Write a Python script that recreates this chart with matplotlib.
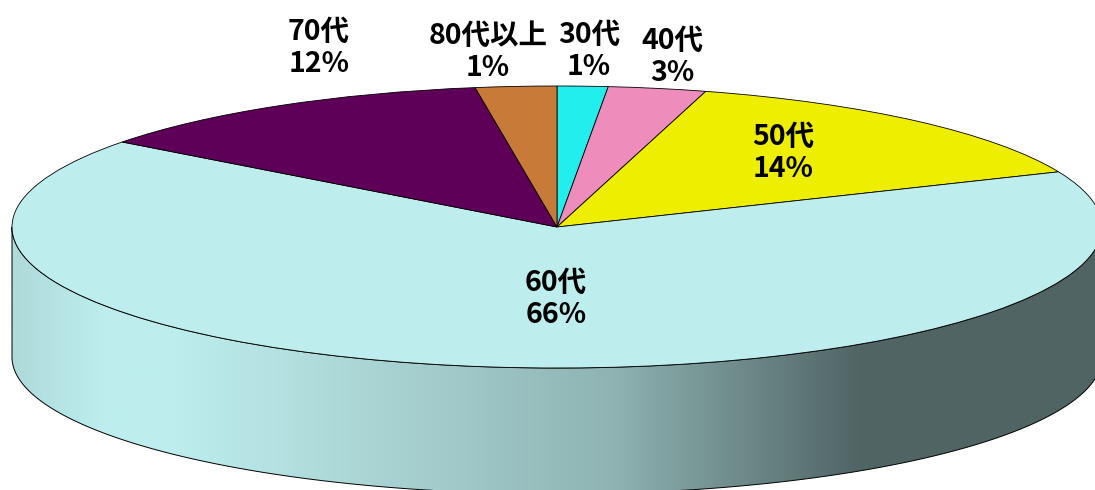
import numpy as np
import matplotlib
matplotlib.use('Agg')
import matplotlib.pyplot as plt
from matplotlib.colors import LinearSegmentedColormap
from matplotlib.patches import Polygon

plt.rcParams['font.family'] = ['Noto Sans CJK JP', 'DejaVu Sans']

# labels as printed, sizes
categories = ['30代', '40代', '50代', '60代', '70代', '80代以上']
printed_pct = [1, 3, 14, 66, 12, 1]
slice_sizes = [1.5, 2.9, 14.2, 66.7, 12.3, 2.4]
colors = ['#22EEEE', '#EE8CBC', '#EEEE00', '#BDEDED', '#5E0058', '#C87A38']

W, H = 1095, 490
cx, cy = 557, 227  # pie centre in pixels
a, b = 545, 141    # semi axes of the squashed pie
depth = 130 / b
lower_squash = 137 / 141  # bottom rim is a bit flatter than the top

fig = plt.figure(figsize=(W / 100, H / 100), dpi=100)
ax = fig.add_axes([0, 0, 1, 1])

# side wall first, gradient clipped to the lower half of the ellipse
t = np.linspace(np.pi, 2 * np.pi, 300)
upper = np.column_stack([np.cos(t), np.sin(t)])
lower = upper[::-1] * [1, lower_squash] - [0, depth]
wall = Polygon(np.vstack([upper, lower]), closed=True, fc='none', ec='black', lw=0.7, zorder=3)
ax.add_patch(wall)
stops = [(0.0, '#AEDADA'), (0.08, '#BDEDED'), (0.15, '#BDEDED'), (0.30, '#AED9D9'),
         (0.55, '#8FB3B3'), (0.78, '#506464'), (1.0, '#506464')]
side_cmap = LinearSegmentedColormap.from_list('side', stops)
img = ax.imshow(np.linspace(0, 1, 512).reshape(1, -1), cmap=side_cmap, aspect='auto',
                extent=(-1, 1, -1 - depth, 0), zorder=2)
img.set_clip_path(wall)

wedges, _ = ax.pie(slice_sizes, colors=colors, startangle=90, counterclock=False, normalize=True,
                   wedgeprops={'edgecolor': 'black', 'linewidth': 0.6, 'zorder': 4})
ax.set_aspect('auto')
ax.set_xlim(-cx / a, (W - cx) / a)
ax.set_ylim(-(H - cy) / b, cy / b)
ax.axis('off')

# label centres in pixels of the picture
label_px = [(589, 51), (672, 57), (783, 153), (556, 299), (319, 48), (488, 52)]
for name, pct, (px, py) in zip(categories, printed_pct, label_px):
    ax.text((px - cx) / a, (cy - py) / b, f'{name}\n{pct}%', ha='center', va='center',
            fontsize=20.5, fontweight='bold', linespacing=1.2, color='black', zorder=5)

fig.savefig('out.png', dpi=100)
